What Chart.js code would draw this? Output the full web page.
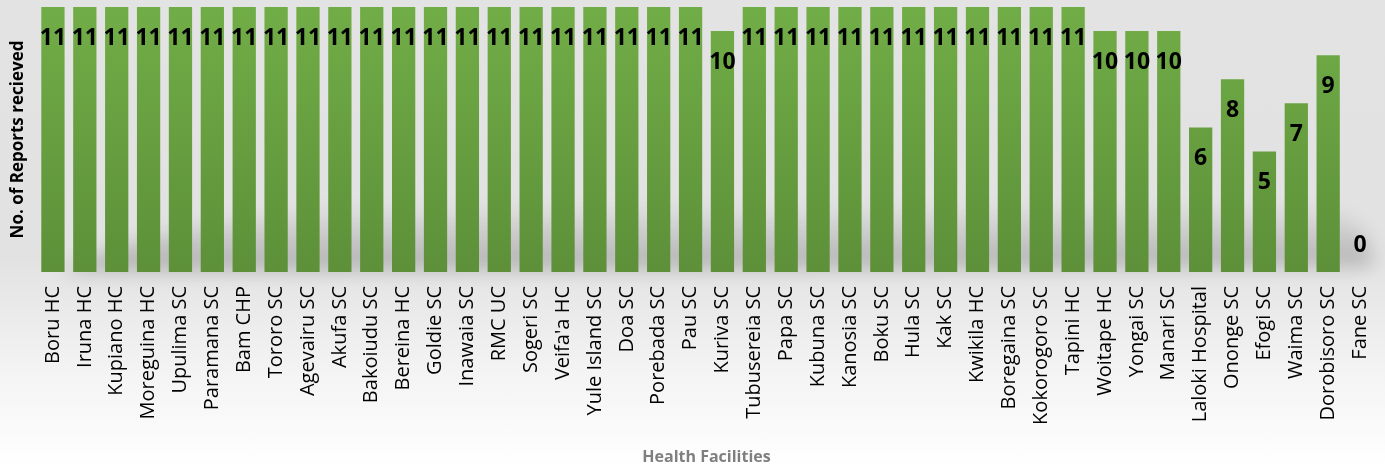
<!doctype html>
<html lang="en">

<head>
    <meta charset="utf-8">
    <title>Reports by Health Facility</title>
    <script src="https://cdn.jsdelivr.net/npm/chart.js"></script>
    <style>
        html, body {
            margin: 0;
            padding: 0;
        }

        body {
            width: 1385px;
            height: 468px;
            background: linear-gradient(to bottom, #e3e3e3 0%, #e2e2e2 55%, #f4f4f4 80%, #ffffff 100%);
        }

        #wrap {
            position: relative;
            width: 1385px;
            height: 468px;
        }
    </style>
</head>

<body>
    <div id="wrap">
        <canvas id="barchart"></canvas>
    </div>

    <script>
        const facilities = [
            'Boru HC', 'Iruna HC', 'Kupiano HC', 'Moreguina HC', 'Upulima SC', 'Paramana SC',
            'Bam CHP', 'Tororo SC', 'Agevairu SC', 'Akufa SC', 'Bakoiudu SC', 'Bereina HC',
            'Goldie SC', 'Inawaia SC', 'RMC UC', 'Sogeri SC', "Veifa'a HC", 'Yule Island SC',
            'Doa SC', 'Porebada SC', 'Pau SC', 'Kuriva SC', 'Tubusereia SC', 'Papa SC',
            'Kubuna SC', 'Kanosia SC', 'Boku SC', 'Hula SC', 'Kak SC', 'Kwikila HC',
            'Boregaina SC', 'Kokorogoro SC', 'Tapini HC', 'Woitape HC', 'Yongai SC', 'Manari SC',
            'Laloki Hospital', 'Ononge SC', 'Efogi SC', 'Waima SC', 'Dorobisoro SC', 'Fane SC'
        ];
        const reports = [
            11, 11, 11, 11, 11, 11,
            11, 11, 11, 11, 11, 11,
            11, 11, 11, 11, 11, 11,
            11, 11, 11, 10, 11, 11,
            11, 11, 11, 11, 11, 11,
            11, 11, 11, 10, 10, 10,
            6, 8, 5, 7, 9, 0
        ];
        const yMax = 11;

        // soft grey shadow behind the lower part of the bars
        const floorShadow = {
            id: 'floorShadow',
            beforeDatasetsDraw(chart) {
                const { ctx, chartArea } = chart;
                const b = chartArea.bottom;
                ctx.save();
                ctx.filter = 'blur(9px)';
                const g = ctx.createLinearGradient(0, b - 70, 0, b);
                g.addColorStop(0, 'rgba(0,0,0,0)');
                g.addColorStop(1, 'rgba(0,0,0,0.22)');
                ctx.fillStyle = g;
                ctx.beginPath();
                ctx.moveTo(chartArea.left + 25, b);
                ctx.quadraticCurveTo(chartArea.left + 120, b - 55, chartArea.left + 330, b - 62);
                ctx.lineTo(chartArea.right - 60, b - 65);
                ctx.quadraticCurveTo(chartArea.right, b - 55, chartArea.right - 5, b - 5);
                ctx.closePath();
                ctx.fill();
                ctx.restore();
            }
        };

        // value labels inside the top of each bar
        const valueLabels = {
            id: 'valueLabels',
            afterDatasetsDraw(chart) {
                const { ctx } = chart;
                const meta = chart.getDatasetMeta(0);
                ctx.save();
                ctx.font = 'bold 23px "Open Sans"';
                ctx.fillStyle = '#000000';
                ctx.textAlign = 'center';
                ctx.textBaseline = 'middle';
                meta.data.forEach((bar, i) => {
                    const y = Math.min(bar.y + 31, bar.base - 27);
                    ctx.fillText(String(reports[i]), bar.x, y);
                });
                ctx.restore();
            }
        };

        let ctx = document.querySelector('#barchart').getContext('2d');
        let barchart = new Chart(ctx, {
            type: 'bar',
            data: {
                labels: facilities,
                datasets: [{
                    label: 'No. of Reports recieved',
                    data: reports,
                    backgroundColor: (c) => {
                        const area = c.chart.chartArea;
                        if (!area) return '#6aa443';
                        const g = c.chart.ctx.createLinearGradient(0, area.top, 0, area.bottom);
                        g.addColorStop(0, '#71ad47');
                        g.addColorStop(1, '#5d9039');
                        return g;
                    },
                    barPercentage: 0.73,
                    categoryPercentage: 1.0
                }]
            },
            options: {
                responsive: true,
                maintainAspectRatio: false,
                animation: false,
                layout: {
                    padding: { top: 7, right: 9, left: 0, bottom: 0 }
                },
                plugins: {
                    legend: { display: false },
                    tooltip: { enabled: false }
                },
                scales: {
                    x: {
                        grid: { display: false, drawTicks: false },
                        border: { display: false },
                        ticks: {
                            autoSkip: false,
                            maxRotation: 90,
                            minRotation: 90,
                            padding: 14,
                            color: '#000000',
                            font: { family: '"Open Sans"', size: 20 }
                        },
                        title: {
                            display: true,
                            text: 'Health Facilities',
                            color: '#7f7f7f',
                            font: { family: '"Open Sans"', size: 16, weight: 'bold' },
                            padding: { top: 8, bottom: 1 }
                        },
                        afterFit: (scale) => {
                            scale.height = 196;
                            scale.paddingLeft = 0;
                            scale.paddingRight = 0;
                        }
                    },
                    y: {
                        min: 0,
                        max: yMax,
                        grid: { display: false, drawTicks: false },
                        border: { display: false },
                        ticks: { display: false },
                        title: {
                            display: true,
                            text: 'No. of Reports recieved',
                            color: '#000000',
                            font: { family: '"Open Sans"', size: 17, weight: 'bold' },
                            padding: { top: 8, bottom: 4 }
                        },
                        afterFit: (scale) => { scale.width = 37; }
                    }
                }
            },
            plugins: [floorShadow, valueLabels]
        });
    </script>

</body>

</html>
